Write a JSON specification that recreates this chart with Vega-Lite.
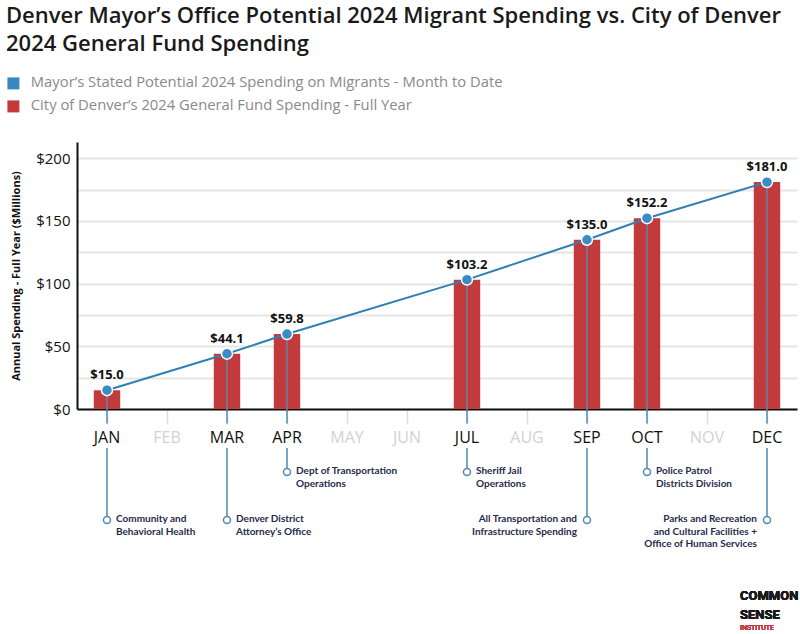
{
  "$schema": "https://vega.github.io/schema/vega-lite/v6.json",
  "width": 720,
  "height": 267,
  "padding": {"left": 6, "top": 5, "right": 0, "bottom": 0},
  "background": "white",
  "title": {
    "text": ["Denver Mayor’s Office Potential 2024 Migrant Spending vs. City of Denver", "2024 General Fund Spending"],
    "anchor": "start",
    "frame": "bounds",
    "font": "Open Sans",
    "fontSize": 22,
    "fontWeight": 600,
    "color": "#1a1a1a",
    "lineHeight": 28,
    "offset": 20
  },
  "config": {"view": {"stroke": null}, "font": "Open Sans"},
  "data": {
    "values": [
      {"month": "JAN", "m": 1, "value": 15.0, "dept": "Community and|Behavioral Health", "tier": "lower"},
      {"month": "MAR", "m": 3, "value": 44.1, "dept": "Denver District|Attorney’s Office", "tier": "lower"},
      {"month": "APR", "m": 4, "value": 59.8, "dept": "Dept of Transportation|Operations", "tier": "upper"},
      {"month": "JUL", "m": 7, "value": 103.2, "dept": "Sheriff Jail|Operations", "tier": "upper"},
      {"month": "SEP", "m": 9, "value": 135.0, "dept": "All Transportation and|Infrastructure Spending", "tier": "lower"},
      {"month": "OCT", "m": 10, "value": 152.2, "dept": "Police Patrol|Districts Division", "tier": "upper"},
      {"month": "DEC", "m": 12, "value": 181.0, "dept": "Parks and Recreation|and Cultural Facilities +|Office of Human Services", "tier": "lower"}
    ]
  },
  "encoding": {
    "x": {
      "field": "month",
      "type": "ordinal",
      "scale": {
        "domain": ["JAN", "FEB", "MAR", "APR", "MAY", "JUN", "JUL", "AUG", "SEP", "OCT", "NOV", "DEC"],
        "paddingInner": 0.56,
        "paddingOuter": 0.28
      },
      "axis": {
        "title": null,
        "labelAngle": 0,
        "domainColor": "#111111",
        "domainWidth": 2,
        "tickSize": 15,
        "tickColor": "#dddddd",
        "tickWidth": 1.5,
        "labelFont": "Open Sans",
        "labelFontSize": 16,
        "labelPadding": 5,
        "labelColor": {
          "condition": {"test": "indexof(['FEB','MAY','JUN','AUG','NOV'], datum.value) >= 0", "value": "#d2d2d2"},
          "value": "#111111"
        },
        "grid": false
      }
    }
  },
  "layer": [
    {
      "encoding": {
        "y": {
          "field": "value",
          "type": "quantitative",
          "scale": {"domain": [0, 213], "nice": false, "zero": true},
          "axis": {
            "title": "Annual Spending - Full Year ($Millions)",
            "titleFont": "Open Sans",
            "titleFontSize": 11,
            "titleFontWeight": "bold",
            "titleColor": "#111111",
            "titlePadding": 14,
            "values": [0, 25, 50, 75, 100, 125, 150, 175, 200],
            "labelExpr": "datum.value % 50 === 0 ? '$' + datum.value : ''",
            "labelFont": "Open Sans",
            "labelFontSize": 15,
            "labelColor": "#111111",
            "labelPadding": 7,
            "ticks": false,
            "domainColor": "#111111",
            "domainWidth": 2,
            "gridColor": "#e6e6e6",
            "gridWidth": 2
          }
        }
      },
      "layer": [
        {
          "mark": {"type": "bar", "color": "#c23a3c"},
          "encoding": {
            "color": {
              "datum": "City of Denver’s 2024 General Fund Spending - Full Year",
              "type": "nominal",
              "scale": {
                "domain": ["Mayor’s Stated Potential 2024 Spending on Migrants - Month to Date", "City of Denver’s 2024 General Fund Spending - Full Year"],
                "range": ["#3a87c0", "#c23a3c"]
              },
              "legend": {
                "title": null,
                "orient": "none",
                "legendX": -71,
                "legendY": -66,
                "direction": "vertical",
                "symbolType": "square",
                "symbolSize": 144,
                "symbolStrokeWidth": 0,
                "labelFont": "Open Sans",
                "labelFontSize": 14.8,
                "labelColor": "#8a8a8a",
                "labelOffset": 10,
                "rowPadding": 7,
                "labelLimit": 600
              }
            }
          }
        },
        {
          "mark": {"type": "rule", "color": "#5a88ad", "strokeWidth": 1.5},
          "encoding": {"y2": {"datum": -11.5}}
        },
        {
          "mark": {"type": "line", "color": "#2f80b3", "strokeWidth": 2},
          "encoding": {"order": {"field": "m", "type": "quantitative"}}
        },
        {
          "mark": {"type": "point", "filled": true, "fill": "#3a8cc4", "stroke": "white", "strokeWidth": 1.5, "size": 120, "opacity": 1}
        },
        {
          "mark": {"type": "text", "dy": -15, "fontSize": 13, "fontWeight": "bold", "color": "#111111", "font": "Open Sans"},
          "encoding": {"text": {"field": "value", "type": "quantitative", "format": "$.1f"}}
        }
      ]
    },
    {
      "encoding": {
        "y": {
          "field": "tier",
          "type": "ordinal",
          "scale": {"type": "point", "domain": ["gap", "upper", "mid", "lower"], "range": [306, 378], "padding": 0},
          "axis": null
        }
      },
      "layer": [
        {
          "mark": {"type": "rule", "color": "#4f8aae", "strokeWidth": 1.5},
          "encoding": {"y2": {"datum": "gap"}}
        },
        {
          "mark": {"type": "point", "shape": "circle", "filled": true, "fill": "white", "stroke": "#4f8aae", "strokeWidth": 1.5, "size": 50, "opacity": 1}
        },
        {
          "transform": [{"filter": {"field": "month", "oneOf": ["SEP", "DEC"]}}],
          "mark": {"type": "text", "align": "right", "baseline": "top", "dx": -10, "dy": -6, "font": "Lato", "fontSize": 10, "fontWeight": "bold", "color": "#1f2a4d", "lineBreak": "|", "lineHeight": 12.5},
          "encoding": {"text": {"field": "dept"}}
        },
        {
          "transform": [{"filter": {"not": {"field": "month", "oneOf": ["SEP", "DEC"]}}}],
          "mark": {"type": "text", "align": "left", "baseline": "top", "dx": 9, "dy": -6, "font": "Lato", "fontSize": 10, "fontWeight": "bold", "color": "#1f2a4d", "lineBreak": "|", "lineHeight": 12.5},
          "encoding": {"text": {"field": "dept"}}
        },
        {
          "mark": {"type": "text", "text": "COMMON", "align": "left", "baseline": "middle", "dx": -27, "dy": 76, "font": "Roboto", "fontSize": 13, "fontWeight": "bold", "color": "#1a1a1a"},
          "encoding": {"x": {"datum": "DEC"}, "y": {"datum": "lower"}}
        },
        {
          "mark": {"type": "text", "text": "SENSE", "align": "left", "baseline": "middle", "dx": -27, "dy": 95, "font": "Roboto", "fontSize": 13, "fontWeight": "bold", "color": "#1a1a1a"},
          "encoding": {"x": {"datum": "DEC"}, "y": {"datum": "lower"}}
        },
        {
          "mark": {"type": "text", "text": "INSTITUTE", "align": "left", "baseline": "middle", "dx": -27, "dy": 108, "font": "Roboto", "fontSize": 7, "letterSpacing": 1.2, "color": "#c23a3c"},
          "encoding": {"x": {"datum": "DEC"}, "y": {"datum": "lower"}}
        }
      ]
    }
  ],
  "resolve": {"scale": {"y": "independent"}}
}
